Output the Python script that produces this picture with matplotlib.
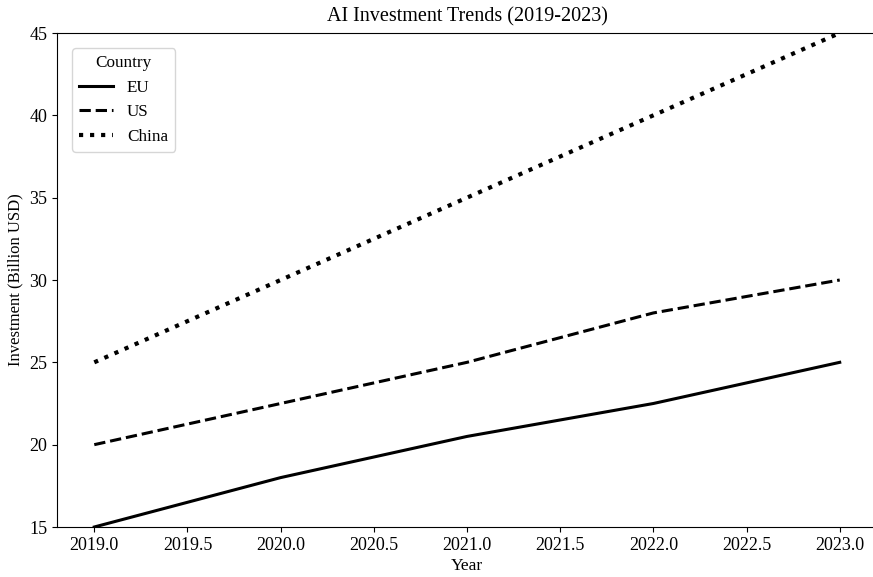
import matplotlib
matplotlib.use('Agg')
import matplotlib.pyplot as plt

# Jooniste andmed
years = [2019, 2020, 2021, 2022, 2023]
eu = [15, 18, 20.5, 22.5, 25]
us = [20, 22.5, 25, 28, 30]
china = [25, 30, 35, 40, 45]

plt.rcParams['font.family'] = ['Liberation Serif', 'DejaVu Serif']

fig = plt.figure(figsize=(8.73, 5.77), dpi=100)
ax = fig.add_axes([57 / 873, 50 / 577, 820 / 873, 494 / 577])

ax.plot(years, eu, color='black', linestyle='-', linewidth=2.2, label='EU')
ax.plot(years, us, color='black', linestyle='--', linewidth=2.2, label='US')
ax.plot(years, china, color='black', linestyle=':', linewidth=3, label='China')

ax.set_ylim(15, 45)
ax.set_title('AI Investment Trends (2019-2023)', fontsize=14.5, pad=8)
ax.set_xlabel('Year', fontsize=12.5, labelpad=3)
ax.set_ylabel('Investment (Billion USD)', fontsize=12)
ax.tick_params(labelsize=13)
ax.legend(title='Country', loc='upper left', fontsize=12.3, title_fontsize=12.3,
          borderaxespad=0.9)

plt.savefig('out.png', dpi=100)
